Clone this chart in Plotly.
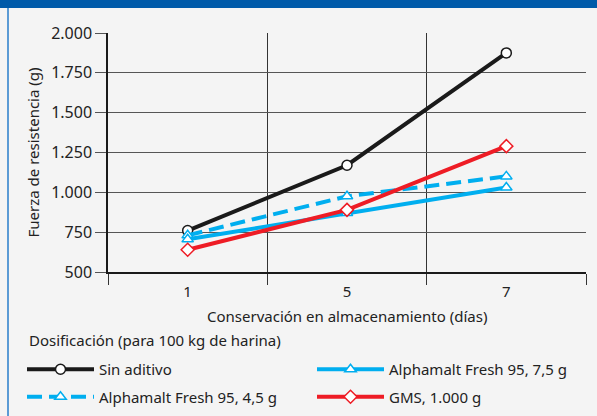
import plotly.graph_objects as go

days = ["1", "5", "7"]
sin_aditivo = [760, 1170, 1875]
alpha_75 = [705, 870, 1030]
alpha_45 = [730, 975, 1100]
gms = [640, 890, 1290]
ytick_vals = [500, 750, 1000, 1250, 1500, 1750, 2000]
ytick_text = ["500", "750", "1.000", "1.250", "1.500", "1.750", "2.000"]

W, H = 597, 416
L, R, T, B = 108, 11, 33, 144
pw, ph = W - L - R, H - T - B

FONT = "Noto Sans"
TXT = "#222222"
FS = 15

fig = go.Figure()

def add(name, y, color, symbol, legend, dash="solid"):
    fig.add_trace(go.Scatter(
        x=days, y=y, name=name, mode="lines+markers", legend=legend,
        legendgroup=name,
        line=dict(color=color, width=4, dash=dash),
        marker=dict(symbol=symbol, size=10, color="white",
                    line=dict(color=color, width=1.5)),
    ))

add("Sin aditivo", sin_aditivo, "#1a1a1a", "circle", "legend")
add("Alphamalt Fresh 95, 4,5 g", alpha_45, "#00aeef", "triangle-up", "legend", dash="15px,7px")
add("Alphamalt Fresh 95, 7,5 g", alpha_75, "#00aeef", "triangle-up", "legend2")
add("GMS, 1.000 g", gms, "#ee1c25", "diamond", "legend2")

# top blue band and left border
fig.add_shape(type="rect", xref="paper", yref="paper",
              x0=-L / pw, x1=(W - L) / pw, y0=1 + (T - 8) / ph, y1=1 + T / ph + 0.01,
              fillcolor="#005aa9", line=dict(width=0), layer="above")
fig.add_shape(type="line", xref="paper", yref="paper",
              x0=-(L - 8) / pw, x1=-(L - 8) / pw, y0=-B / ph - 0.01, y1=1 + (T - 8) / ph,
              line=dict(color="#5b9bd5", width=2))

fig.add_annotation(text="Dosificación (para 100 kg de harina)",
                   xref="paper", yref="paper", showarrow=False,
                   x=-(L - 27) / pw, y=-(340 - T - ph) / ph,
                   xanchor="left", yanchor="middle",
                   font=dict(size=FS, color=TXT))
fig.add_annotation(text="Fuerza de resistencia (g)",
                   xref="paper", yref="paper", showarrow=False, textangle=-90,
                   x=-(L - 32) / pw, y=0.5,
                   xanchor="center", yanchor="middle",
                   font=dict(size=FS, color=TXT))
fig.add_annotation(text="Conservación en almacenamiento (días)",
                   xref="paper", yref="paper", showarrow=False,
                   x=0.5, y=-(316 - T - ph) / ph,
                   xanchor="center", yanchor="middle",
                   font=dict(size=FS, color=TXT))

leg_common = dict(
    orientation="v", xref="container", yref="container",
    xanchor="left", yanchor="top",
    font=dict(size=FS, color=TXT), itemwidth=67,
    bgcolor="rgba(0,0,0,0)", tracegroupgap=5,
)

fig.update_layout(
    width=W, height=H,
    margin=dict(l=L, r=R, t=T, b=B, autoexpand=False),
    paper_bgcolor="#f4f4f4", plot_bgcolor="#f4f4f4",
    font=dict(family=FONT, size=FS, color=TXT),
    showlegend=True,
    legend=dict(x=22 / W, y=1 - 353 / H, **leg_common),
    legend2=dict(x=312 / W, y=1 - 353 / H, **leg_common),
    xaxis=dict(
        type="category", range=[-0.5, 2.5], tickson="boundaries",
        ticks="outside", ticklen=11, tickcolor="#333333", tickwidth=1,
        showgrid=True, gridcolor="#333333", gridwidth=1,
        showline=True, linecolor="#1a1a1a", linewidth=1.5,
        ticklabelstandoff=5,
        tickfont=dict(size=FS, color=TXT),
    ),
    yaxis=dict(
        range=[500, 2000], tickvals=ytick_vals, ticktext=ytick_text,
        ticks="outside", ticklen=11, tickcolor="#555555", tickwidth=1,
        showgrid=True, gridcolor="#555555", gridwidth=1,
        showline=True, linecolor="#1a1a1a", linewidth=1.5,
        zeroline=False,
        tickfont=dict(size=16, color=TXT),
    ),
)

fig.write_html("out.html", config={"displayModeBar": False},
               post_script="document.body.style.margin='0';")
